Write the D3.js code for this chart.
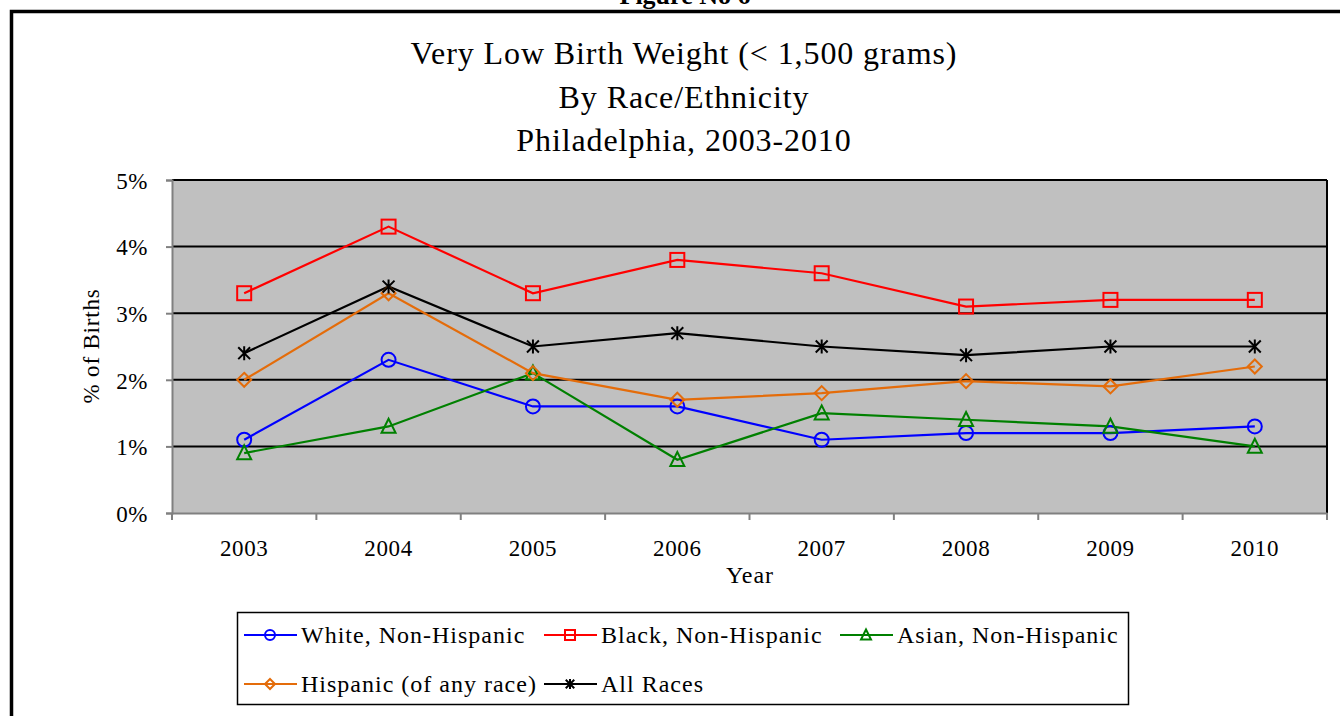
<!DOCTYPE html>
<html><head><meta charset="utf-8">
<script src="https://cdn.jsdelivr.net/npm/d3@7"></script>
<style>body{margin:0;background:#fff;}svg{display:block;font-family:"Liberation Serif","DejaVu Serif",serif;}</style>
</head><body><svg id="c" width="1340" height="716"></svg>
<script>
const years = ["2003","2004","2005","2006","2007","2008","2009","2010"];
const white = [1.1,2.3,1.6,1.6,1.1,1.2,1.2,1.3];
const black = [3.3,4.3,3.3,3.8,3.6,3.1,3.2,3.2];
const asian = [0.9,1.3,2.1,0.8,1.5,1.4,1.3,1.0];
const hispanic = [2.0,3.3,2.1,1.7,1.8,1.98,1.9,2.2];
const allRaces = [2.4,3.4,2.5,2.7,2.5,2.37,2.5,2.5];
const yTicks = [0,1,2,3,4,5];
const seriesNames = ["White, Non-Hispanic","Black, Non-Hispanic","Asian, Non-Hispanic","Hispanic (of any race)","All Races"];
const titleLines = ["Very Low Birth Weight (< 1,500 grams)","By Race/Ethnicity","Philadelphia, 2003-2010"];

const series = [
  {name:seriesNames[0], values:white, color:"#0000ff", marker:"circle"},
  {name:seriesNames[1], values:black, color:"#ff0000", marker:"square"},
  {name:seriesNames[2], values:asian, color:"#008000", marker:"triangle"},
  {name:seriesNames[3], values:hispanic, color:"#e46c0a", marker:"diamond"},
  {name:seriesNames[4], values:allRaces, color:"#000000", marker:"star"}
];

const svg = d3.select("#c");
// outer frame
svg.append("rect").attr("x",11.5).attr("y",11.5).attr("width",1340).attr("height",720)
  .attr("fill","none").attr("stroke","#000").attr("stroke-width",3.5);
svg.append("text").attr("x",685).attr("y",4).attr("text-anchor","middle")
  .attr("font-size",26).attr("font-weight","bold").text("Figure No 6");

// title
const title = svg.append("g");
titleLines.forEach((t,i)=>{
  title.append("text").attr("x",684).attr("y",64+i*43.5).attr("text-anchor","middle")
    .attr("font-size",32).attr("letter-spacing",0.9).attr("fill","#000").text(t);
});

const L=172, R=1327, T=180, B=513;
const x = d3.scaleBand().domain(years).range([L,R]).padding(0);
const y = d3.scaleLinear().domain([0,5]).range([B,T]);

svg.append("rect").attr("x",L).attr("y",T).attr("width",R-L).attr("height",B-T).attr("fill","#c0c0c0");
// gridlines
svg.append("g").selectAll("line").data(yTicks.filter(d=>d>0)).join("line")
  .attr("x1",L).attr("x2",R).attr("y1",d=>y(d)).attr("y2",d=>y(d))
  .attr("stroke","#000").attr("stroke-width",2);
// right border
svg.append("line").attr("x1",R).attr("x2",R).attr("y1",T).attr("y2",B).attr("stroke","#000").attr("stroke-width",2);

// y axis
const yAxis = d3.axisLeft(y).tickValues(yTicks).tickFormat(d=>d+"%").tickSize(6).tickPadding(18);
const gy = svg.append("g").attr("transform",`translate(${L},0)`).call(yAxis);
gy.select(".domain").attr("stroke","#808080").attr("stroke-width",2);
gy.selectAll(".tick line").attr("stroke","#808080").attr("stroke-width",2);
gy.selectAll(".tick text").attr("font-size",23).attr("letter-spacing",0.5).attr("fill","#000").attr("font-family","Liberation Serif").attr("dy","0.36em");

// x axis
const xAxis = d3.axisBottom(x).tickSize(0).tickPadding(27);
const gx = svg.append("g").attr("transform",`translate(0,${B})`).call(xAxis);
gx.select(".domain").attr("stroke","#808080").attr("stroke-width",2);
gx.selectAll(".tick text").attr("font-size",23).attr("letter-spacing",0.6).attr("fill","#000").attr("font-family","Liberation Serif");
// category boundary ticks
const bounds = years.map(d=>x(d)).concat([R]);
svg.append("g").selectAll("line").data(bounds).join("line")
  .attr("x1",d=>d).attr("x2",d=>d).attr("y1",B).attr("y2",B+7)
  .attr("stroke","#808080").attr("stroke-width",2);

// axis titles
svg.append("text").attr("transform","translate(99,346) rotate(-90)").attr("text-anchor","middle")
  .attr("font-size",23).attr("letter-spacing",0.8).text("% of Births");
svg.append("text").attr("x",750).attr("y",583).attr("text-anchor","middle").attr("font-size",24).attr("letter-spacing",1).text("Year");

function drawMarker(g, type, cx, cy, color, s){
  const sw = 2;
  if(type==="circle"){
    g.append("circle").attr("cx",cx).attr("cy",cy).attr("r",s).attr("fill","none").attr("stroke",color).attr("stroke-width",sw);
  } else if(type==="square"){
    g.append("rect").attr("x",cx-s).attr("y",cy-s).attr("width",2*s).attr("height",2*s).attr("fill","none").attr("stroke",color).attr("stroke-width",sw);
  } else if(type==="triangle"){
    g.append("path").attr("d",`M${cx},${cy-s*1.1}L${cx+s},${cy+s*0.9}L${cx-s},${cy+s*0.9}Z`).attr("fill","none").attr("stroke",color).attr("stroke-width",sw);
  } else if(type==="diamond"){
    g.append("path").attr("d",`M${cx},${cy-s}L${cx+s},${cy}L${cx},${cy+s}L${cx-s},${cy}Z`).attr("fill","none").attr("stroke",color).attr("stroke-width",sw);
  } else if(type==="star"){
    const a=s*0.85;
    g.append("path").attr("d",`M${cx-a},${cy-a}L${cx+a},${cy+a}M${cx+a},${cy-a}L${cx-a},${cy+a}M${cx},${cy-s}L${cx},${cy+s}`)
      .attr("fill","none").attr("stroke",color).attr("stroke-width",sw);
  }
}

const line = d3.line().x((d,i)=>x(years[i])+x.bandwidth()/2).y(d=>y(d));
const plot = svg.append("g");
series.forEach(s=>{
  plot.append("path").datum(s.values).attr("d",line).attr("fill","none").attr("stroke",s.color).attr("stroke-width",2.2);
});
series.forEach(s=>{
  const g = plot.append("g");
  s.values.forEach((v,i)=>drawMarker(g,s.marker,x(years[i])+x.bandwidth()/2,y(v),s.color,7));
});

// legend
const leg = svg.append("g");
leg.append("rect").attr("x",237.5).attr("y",612.5).attr("width",891).attr("height",92).attr("fill","#fff").attr("stroke","#000").attr("stroke-width",1.5);
const legPos = [[244,635],[544,635],[840,635],[244,684],[544,684]];
series.forEach((s,i)=>{
  const [lx,ly]=legPos[i];
  const g = leg.append("g");
  g.append("line").attr("x1",lx).attr("x2",lx+53).attr("y1",ly).attr("y2",ly).attr("stroke",s.color).attr("stroke-width",2.2);
  drawMarker(g,s.marker,lx+26,ly,s.color,5);
  g.append("text").attr("x",lx+57).attr("y",ly+8).attr("font-size",24).attr("letter-spacing",1).text(s.name);
});
</script></body></html>
